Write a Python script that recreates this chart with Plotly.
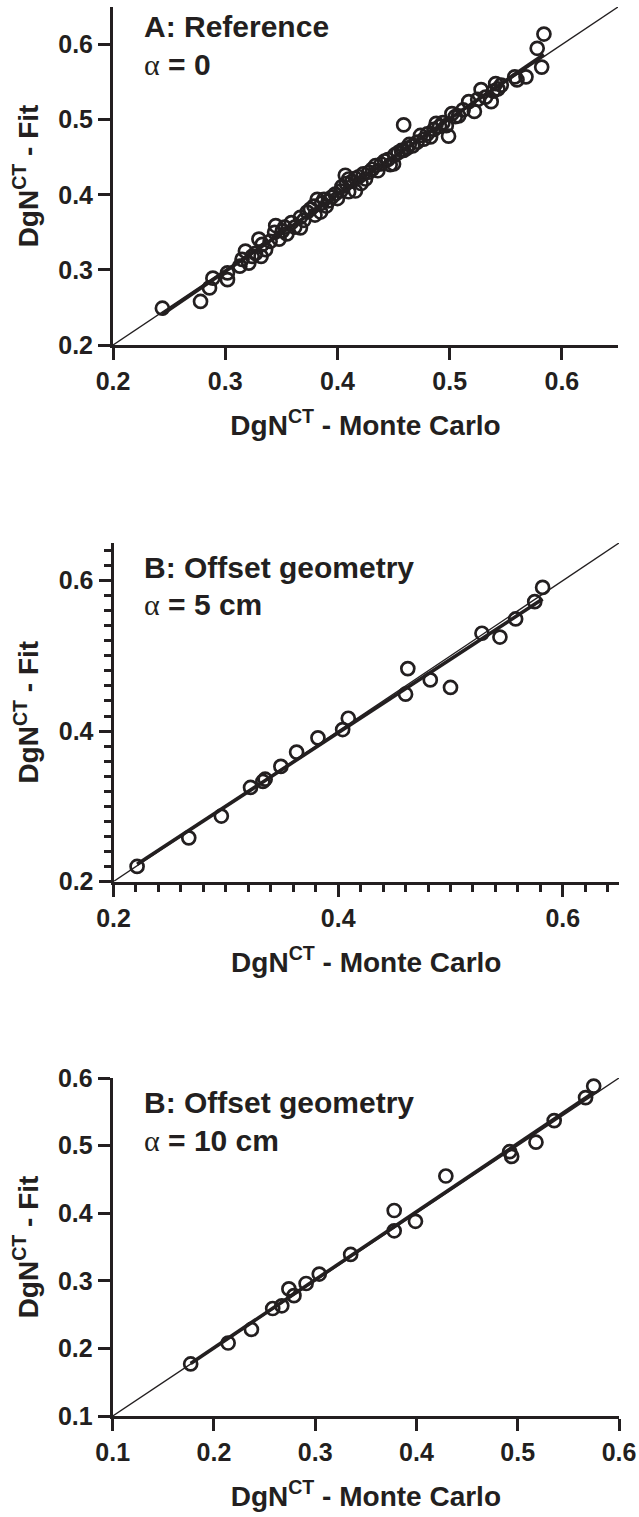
import numpy as np
import plotly.graph_objects as go

# ---------------- data ----------------
a_x = [0.244, 0.278, 0.286, 0.289, 0.302, 0.302, 0.313, 0.315, 0.318, 0.321, 0.324, 0.327,
       0.330, 0.332, 0.333, 0.336, 0.340, 0.344, 0.345, 0.348, 0.351, 0.353, 0.355, 0.359,
       0.362, 0.367, 0.367, 0.370, 0.373, 0.376, 0.379, 0.380, 0.382, 0.385, 0.386, 0.388,
       0.390, 0.392, 0.395, 0.398, 0.400, 0.403, 0.404, 0.407, 0.408, 0.410, 0.410, 0.413,
       0.416, 0.416, 0.419, 0.421, 0.423, 0.425, 0.428, 0.431, 0.434, 0.436, 0.439, 0.442,
       0.445, 0.447, 0.450, 0.451, 0.454, 0.457, 0.459, 0.459, 0.462, 0.464, 0.467, 0.471,
       0.474, 0.477, 0.480, 0.483, 0.486, 0.488, 0.491, 0.494, 0.497, 0.499, 0.502, 0.505,
       0.508, 0.512, 0.517, 0.522, 0.525, 0.528, 0.532, 0.537, 0.539, 0.541, 0.543, 0.546,
       0.558, 0.560, 0.568, 0.578, 0.582, 0.584]
a_y = [0.249, 0.258, 0.276, 0.289, 0.287, 0.296, 0.305, 0.314, 0.325, 0.309, 0.318, 0.322,
       0.341, 0.318, 0.334, 0.327, 0.338, 0.350, 0.359, 0.341, 0.352, 0.357, 0.348, 0.363,
       0.357, 0.370, 0.356, 0.366, 0.377, 0.381, 0.385, 0.373, 0.394, 0.377, 0.389, 0.394,
       0.385, 0.392, 0.397, 0.401, 0.395, 0.405, 0.411, 0.426, 0.415, 0.404, 0.421, 0.418,
       0.405, 0.422, 0.424, 0.415, 0.428, 0.421, 0.430, 0.434, 0.439, 0.432, 0.441, 0.445,
       0.447, 0.440, 0.441, 0.453, 0.456, 0.459, 0.459, 0.493, 0.462, 0.467, 0.465, 0.470,
       0.479, 0.474, 0.481, 0.477, 0.487, 0.495, 0.491, 0.496, 0.492, 0.478, 0.508, 0.504,
       0.505, 0.513, 0.524, 0.511, 0.527, 0.540, 0.530, 0.524, 0.538, 0.548, 0.541, 0.546,
       0.557, 0.553, 0.557, 0.595, 0.570, 0.614]

b_x = [0.221, 0.267, 0.296, 0.322, 0.333, 0.335, 0.349, 0.363, 0.382, 0.404,
       0.409, 0.460, 0.462, 0.482, 0.500, 0.528, 0.544, 0.558, 0.575, 0.582]
b_y = [0.220, 0.258, 0.287, 0.325, 0.333, 0.336, 0.353, 0.372, 0.391, 0.402,
       0.417, 0.449, 0.483, 0.468, 0.458, 0.530, 0.525, 0.549, 0.572, 0.591]

c_x = [0.177, 0.214, 0.237, 0.258, 0.267, 0.274, 0.279, 0.291, 0.304, 0.335,
       0.378, 0.378, 0.399, 0.429, 0.492, 0.494, 0.518, 0.536, 0.567, 0.575]
c_y = [0.177, 0.208, 0.228, 0.259, 0.263, 0.288, 0.278, 0.296, 0.310, 0.339,
       0.404, 0.374, 0.388, 0.455, 0.491, 0.484, 0.505, 0.537, 0.571, 0.588]

a_range = [0.2, 0.65]
b_range = [0.2, 0.65]
c_range = [0.1, 0.6]
a_ticks = [0.2, 0.3, 0.4, 0.5, 0.6]
b_ticks = [0.2, 0.4, 0.6]
c_ticks = [0.1, 0.2, 0.3, 0.4, 0.5, 0.6]

panel_title = ["A: Reference", "B: Offset geometry", "B: Offset geometry"]
panel_alpha = ["0", "5 cm", "10 cm"]
x_title = "DgN<sup>CT</sup> - Monte Carlo"
y_title = "DgN<sup>CT</sup> - Fit"

# ---------------- layout helpers ----------------
W, H = 639, 1517
INK = "#231f20"
FONT = "Liberation Sans, Arial, sans-serif"


def px(x):
    return x / W


def py(y):
    return 1 - y / H


# plot areas in pixels: (left, right, top, bottom)
areas = [(113, 618, 7, 345), (113.5, 619, 543, 881.5), (112.7, 619, 1078, 1416)]
# vertical centres (pixels) of the two lines of each panel label
label_y = [(27, 64), (567, 604), (1102, 1140)]
datasets = [(a_x, a_y, a_range, a_ticks), (b_x, b_y, b_range, b_ticks), (c_x, c_y, c_range, c_ticks)]

fig = go.Figure()
layout = dict(width=W, height=H, autosize=False, margin=dict(l=0, r=0, t=0, b=0, pad=0),
              paper_bgcolor="white", plot_bgcolor="white", showlegend=False)
annotations = []

for i, ((xs, ys, rng, ticks), (l, r, t, b)) in enumerate(zip(datasets, areas)):
    n = "" if i == 0 else str(i + 1)
    xa, ya = "x" + n, "y" + n
    # identity line
    fig.add_trace(go.Scatter(x=rng, y=rng, mode="lines", xaxis=xa, yaxis=ya,
                             line=dict(color=INK, width=1.4), hoverinfo="skip"))
    # regression line through the data
    xs_a, ys_a = np.array(xs), np.array(ys)
    k, c0 = np.polyfit(xs_a, ys_a, 1)
    fx = np.array([xs_a.min(), xs_a.max()])
    fig.add_trace(go.Scatter(x=fx, y=k * fx + c0, mode="lines", xaxis=xa, yaxis=ya,
                             line=dict(color=INK, width=3.6), hoverinfo="skip"))
    # data points
    fig.add_trace(go.Scatter(x=xs, y=ys, mode="markers", xaxis=xa, yaxis=ya,
                             marker=dict(symbol="circle-open", size=13, color=INK,
                                         line=dict(width=2.7, color=INK))))
    ax_common = dict(showgrid=False, zeroline=False, showline=True, linewidth=3,
                     linecolor=INK, ticks="outside", ticklen=12, tickwidth=3,
                     tickcolor=INK, range=rng, tickvals=ticks, automargin=False,
                     ticktext=[f"{v:.1f}" for v in ticks],
                     tickfont=dict(family=FONT, size=25, color=INK, weight="bold"))
    if i == 1:
        ax_common["minor"] = dict(dtick=0.02, tick0=0.2, ticks="outside", ticklen=7,
                                  tickwidth=3, tickcolor=INK)
    layout["xaxis" + n] = dict(ax_common, domain=[px(l), px(r)], anchor=ya,
                               title=dict(text=x_title, standoff=22,
                                          font=dict(family=FONT, size=28, color=INK,
                                                    weight="bold")))
    layout["yaxis" + n] = dict(ax_common, domain=[py(b), py(t)], anchor=xa,
                               title=dict(text=y_title, standoff=12,
                                          font=dict(family=FONT, size=28, color=INK,
                                                    weight="bold")))

    # panel labels
    annotations.append(dict(text=panel_title[i], xref="paper", yref="paper",
                            x=px(142), y=py(label_y[i][0]), xanchor="left",
                            yanchor="middle", showarrow=False,
                            font=dict(family=FONT, size=30, color=INK, weight="bold")))
    annotations.append(dict(text="<span style='font-family:Liberation Serif;font-weight:normal'>α</span> = "
                                 + panel_alpha[i],
                            xref="paper", yref="paper",
                            x=px(142), y=py(label_y[i][1]), xanchor="left",
                            yanchor="middle", showarrow=False,
                            font=dict(family=FONT, size=30, color=INK, weight="bold")))

layout["annotations"] = annotations
fig.update_layout(**layout)
fig.write_html("out.html")
